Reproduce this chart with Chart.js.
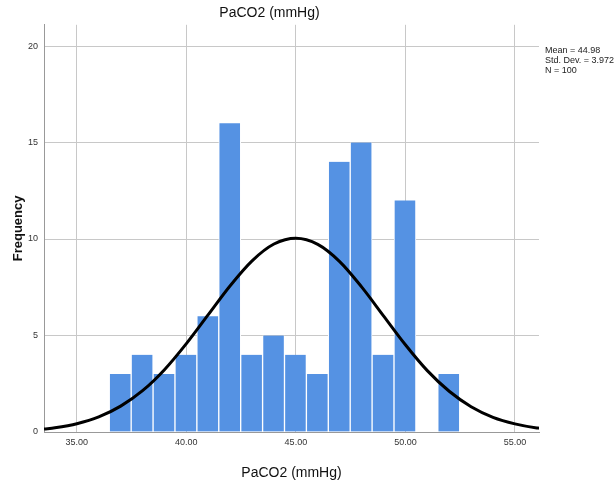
<!DOCTYPE html>
<html>
<head>
<meta charset="utf-8">
<script src="https://cdn.jsdelivr.net/npm/chart.js@4.4.0/dist/chart.umd.min.js"></script>
<style>
  body { margin: 0; background: #fff; }
  #wrap { position: relative; width: 614px; height: 488px; overflow: hidden; }
  #stats {
    position: absolute; left: 545px; top: 45px;
    font: 9px "Liberation Sans", Arial, sans-serif; line-height: 10px;
    color: #222; white-space: nowrap;
  }
</style>
</head>
<body>
<div id="wrap">
  <canvas id="myChart" width="614" height="488"></canvas>
  <div id="stats">Mean = 44.98<br>Std. Dev. = 3.972<br>N = 100</div>
</div>
<script>
// histogram bins (centre of each 1-unit bin) and counts
const binCenters = [36.98, 37.98, 38.98, 39.98, 40.98, 41.98, 42.98, 43.98, 44.98, 45.98, 46.98, 47.98, 48.98, 49.98, 50.98, 51.98];
const counts = [3, 4, 3, 4, 6, 16, 4, 5, 4, 3, 14, 15, 4, 12, 0, 3];

// normal curve
const curveX = [33.5, 34, 35, 36, 37, 38, 39, 40, 41, 42, 43, 44, 45, 46, 47, 48, 49, 50, 51, 52, 53, 54, 55, 56, 56.1];
const curveY = [0.15, 0.22, 0.43, 0.78, 1.34, 2.14, 3.23, 4.58, 6.08, 7.58, 8.87, 9.74, 10.04, 9.72, 8.83, 7.52, 6.02, 4.52, 3.18, 2.11, 1.31, 0.76, 0.42, 0.21, 0.2];

const xTicks = [35, 40, 45, 50, 55];
const yTicks = [0, 5, 10, 15, 20];

const tickFont = { family: "'Liberation Sans', Arial, sans-serif", size: 9 };
const labelFont = { family: "'Liberation Sans', Arial, sans-serif", size: 14, weight: 'normal' };

const ctx = document.getElementById('myChart').getContext('2d');
const myChart = new Chart(ctx, {
    data: {
        datasets: [{
            type: 'line',
            data: curveX.map((x, i) => ({ x: x, y: curveY[i] })),
            borderColor: '#000',
            borderWidth: 3,
            pointRadius: 0,
            fill: false,
            cubicInterpolationMode: 'monotone',
            order: 0
        }, {
            type: 'bar',
            data: binCenters.map((x, i) => ({ x: x, y: counts[i] })),
            backgroundColor: '#5592e3',
            borderColor: '#fff',
            borderWidth: { left: 1, right: 1, top: 0, bottom: 0 },
            borderSkipped: false,
            barPercentage: 1,
            categoryPercentage: 1,
            order: 1
        }]
    },
    options: {
        responsive: false,
        animation: false,
        layout: { padding: { left: 0, right: 75, top: 0, bottom: 0 } },
        plugins: {
            legend: { display: false },
            tooltip: { enabled: false },
            title: {
                display: true,
                text: 'PaCO2 (mmHg)',
                color: '#111',
                font: labelFont,
                padding: { top: 5, bottom: 3 }
            }
        },
        scales: {
            x: {
                type: 'linear',
                offset: false,
                min: 33.5,
                max: 56.1,
                afterBuildTicks: (axis) => { axis.ticks = xTicks.map(v => ({ value: v })); },
                afterFit: (axis) => { axis.height = 56; },
                ticks: {
                    font: tickFont, color: '#333', padding: 5, maxRotation: 0,
                    callback: (v) => v.toFixed(2)
                },
                grid: { color: '#c8c8c8', drawTicks: false, offset: false },
                border: { color: '#999', width: 1 },
                title: {
                    display: true, text: 'PaCO2 (mmHg)', color: '#111', font: labelFont,
                    padding: { top: 0, bottom: 6 }
                }
            },
            y: {
                type: 'linear',
                min: 0,
                max: 21.1,
                afterBuildTicks: (axis) => { axis.ticks = yTicks.map(v => ({ value: v })); },
                afterFit: (axis) => { axis.width = 44; },
                ticks: { font: tickFont, color: '#333', padding: 6 },
                grid: { color: '#c8c8c8', drawTicks: false },
                border: { color: '#999', width: 1 },
                title: {
                    display: true, text: 'Frequency', color: '#111',
                    font: { family: "'Liberation Sans', Arial, sans-serif", size: 13, weight: 'bold' },
                    padding: { top: 11, bottom: 0 }
                }
            }
        }
    }
});
</script>
</body>
</html>
